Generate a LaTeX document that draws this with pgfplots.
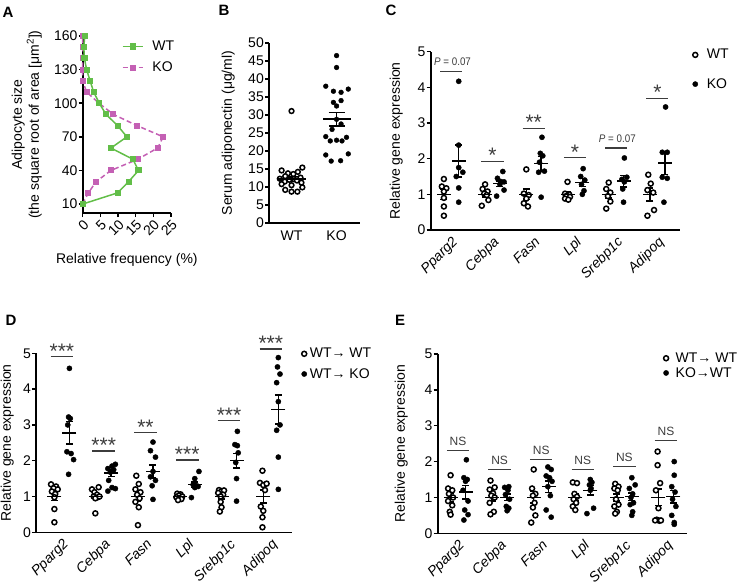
\documentclass[border=0pt]{standalone}
\usepackage{fontspec}
\setmainfont{Liberation Sans}
\usepackage{pgfplots}
\pgfplotsset{compat=1.18}

\definecolor{wtgreen}{RGB}{98,190,72}
\definecolor{komag}{RGB}{196,96,180}
\definecolor{siggray}{RGB}{60,60,60}

\newcommand{\fs}[1]{\fontsize{#1bp}{#1bp}\selectfont}

\pgfplotsset{
  panel/.style={
    scale only axis, clip=false,
    axis x line*=bottom, axis y line*=left,
    axis line style={line width=1.6bp, black},
    tick style={line width=1.5bp, black},
    tick align=outside, major tick length=4bp,
    tick label style={font=\fs{14}},
    label style={font=\fontsize{14bp}{17bp}\selectfont},
    /pgf/number format/assume math mode=true,
    yticklabel style={inner sep=1bp},
    legend style={draw=none, fill=none, font=\fs{14}, inner sep=0pt,
      nodes={inner sep=1bp}},
    legend cell align=left,
  },
  gene/.style={
    xtick={1,...,6},
    xticklabels={Pparg2,Cebpa,Fasn,Lpl,Srebp1c,Adipoq},
    xticklabel style={font=\itshape\fs{14}, rotate=45, anchor=north east, inner sep=1bp},
    xtick style={draw=none},
    ymin=0, ymax=5, ytick={0,...,5},
    ylabel={Relative gene expression},
    legend image code/.code={\draw[##1] plot coordinates {(0bp,0bp)};},
  },
  wt/.style={only marks, mark=*, mark size=2.5bp,
    mark options={fill=white, draw=black, line width=1.5bp}},
  ko/.style={only marks, mark=*, mark size=2.6bp, mark options={fill=black, draw=black}},
  meansem/.style={forget plot, only marks, black, mark=-, mark size=7bp,
    mark options={line width=1.5bp},
    error bars/y dir=both, error bars/y explicit,
    error bars/error bar style={line width=1.5bp, black},
    error bars/error mark options={rotate=90, mark size=3.5bp, line width=1.5bp, black}},
  sigline/.style={forget plot, no marks, line width=1.1bp, siggray},
}
\tikzset{
  star/.style={anchor=base, text=siggray, font=\fs{21}, yshift=-1.5bp, inner sep=0pt},
  pval/.style={anchor=base, text=siggray, font=\fs{11}, yshift=5.5bp, inner sep=0pt},
  ns/.style={anchor=base, text=siggray, font=\fs{12}, yshift=5bp, inner sep=0pt},
  letter/.style={font=\bfseries\fs{15}, inner sep=0pt},
}

\begin{document}
\begin{tikzpicture}
\useasboundingbox (0,0) rectangle (742bp,-583bp);

\node[letter] at (8bp,-12bp) {A};
\node[letter] at (224bp,-10bp) {B};
\node[letter] at (391bp,-10bp) {C};
\node[letter] at (11bp,-320bp) {D};
\node[letter] at (400bp,-320bp) {E};

% ---------- A: size distribution
\begin{axis}[panel, at={(82.7bp,-213bp)}, anchor=south west, width=88.3bp, height=177bp,
  xmin=0, xmax=25, ymin=2, ymax=160,
  xtick={0,5,...,25}, ytick={10,40,...,160},
  xticklabel style={rotate=45, anchor=north east, inner sep=1bp},
  xlabel={Relative frequency (\%)},
  xlabel style={at={(axis description cs:0.5,-0.266)}, anchor=center},
  ylabel={Adipocyte size\\(the square root of area [μm\textsuperscript{2}])},
  ylabel style={align=center, at={(axis description cs:-0.461,0.5)}, anchor=south, inner sep=0pt},
  legend style={at={(rel axis cs:0.442,0.979)}, anchor=north west, row sep=8bp,
    /tikz/every odd column/.append style={column sep=8bp}},
  legend image code/.code={\draw[mark repeat=2,mark phase=2,#1] plot coordinates {(0bp,0bp)(10bp,0bp)(20bp,0bp)};},
  reverse legend,
]
\addplot[komag, line width=1.5bp, dash pattern=on 5bp off 3bp, mark=square*, mark size=2.3bp, mark options={solid}]
  coordinates {(0,10)(1.6,20)(3.8,30)(8,40)(15.6,50)(21.2,60)(22.8,70)(15.4,80)(8.7,90)(4.6,100)(1.1,110)(0,120)(0,130)(0,140)(0,150)(0,160)};
\addlegendentry{KO}
\addplot[wtgreen, line width=1.5bp, mark=square*, mark size=2.3bp]
  coordinates {(0,10)(9.9,20)(13,30)(15.8,40)(14.2,50)(8,60)(12.5,70)(9.9,80)(6.6,90)(4.7,100)(3.1,110)(2.1,120)(1.1,130)(0.5,140)(0.3,150)(0.6,160)};
\addlegendentry{WT}
\end{axis}

% ---------- B: serum adiponectin
\begin{axis}[panel, at={(269bp,-223bp)}, anchor=south west, width=91bp, height=180bp,
  xmin=0.5, xmax=2.52, ymin=0, ymax=50,
  ytick={0,5,...,50}, xtick={1,2}, xticklabels={WT,KO}, xtick style={draw=none},
  ylabel={Serum adiponectin (μg/ml)},
  ylabel style={at={(axis description cs:-0.374,0.5)}, anchor=south, inner sep=0pt},
]
\addplot[wt, mark size=2.4bp] coordinates {
  (1,31.1)(1.24,15.4)(0.78,14.6)(1.14,14.2)(0.92,13.8)(1.04,13.6)(0.86,13.0)(1.2,12.6)
  (0.74,12.3)(1.05,12.2)(0.95,12.0)(1.12,11.8)(0.85,11.5)(1.22,11.2)(0.78,10.8)(1.0,10.5)
  (1.24,9.9)(0.86,9.2)(1.0,8.7)(1.13,8.7)};
\addplot[ko, mark size=2.4bp] coordinates {
  (2,46.5)(2,43.2)(1.76,38)(1.93,36.6)(2.1,36.3)(2.26,37.2)(1.93,33.5)(2.1,34.0)(2.0,32.5)
  (2,28.8)(2.1,27.5)(1.9,26)(1.76,24)(1.86,22.8)(2.0,23)(2.12,22.8)(2.22,23.8)
  (1.76,18.9)(2.26,19.2)(1.88,17.2)(2.09,17.3)};
\addplot[meansem, mark size=14bp, mark options={line width=1.8bp},
  error bars/error bar style={line width=1.8bp},
  error bars/error mark options={rotate=90, mark size=8bp, line width=1.8bp}]
  coordinates {(1,12.3) +- (0,0.6) (2,28.8) +- (0,1.9)};
\end{axis}

% ---------- C: gene expression WT vs KO
\begin{axis}[panel, gene, at={(430.7bp,-230bp)}, anchor=south west, width=249.3bp, height=178.3bp,
  xmin=0.5, xmax=6.55,
  ylabel style={at={(axis description cs:-0.111,0.5)}, anchor=south, inner sep=0pt},
  legend style={at={(rel axis cs:1.05,1.02)}, anchor=north west, row sep=16bp,
    /tikz/every odd column/.append style={column sep=8bp}},
]
\addplot[wt] coordinates {
  (0.82,1.43)(0.77,1.22)(0.88,1.17)(0.82,1.08)(0.82,0.9)(0.82,0.66)(0.82,0.4)
  (1.82,1.28)(1.76,1.15)(1.88,1.08)(1.8,1.02)(1.86,0.98)(1.9,0.84)(1.74,0.68)
  (2.82,1.7)(2.76,1.02)(2.88,0.98)(2.82,0.88)(2.76,0.75)(2.86,0.66)
  (3.82,1.35)(3.76,1.02)(3.86,1.0)(3.8,0.96)(3.88,0.93)(3.76,0.88)(3.84,0.85)
  (4.82,1.33)(4.76,1.15)(4.86,1.05)(4.8,0.95)(4.86,0.8)(4.76,0.6)
  (5.78,1.55)(5.84,1.3)(5.76,1.12)(5.9,1.05)(5.92,0.56)(5.76,0.4)};
\addlegendentry{WT}
\addplot[ko] coordinates {
  (1.18,4.17)(1.18,2.38)(1.18,1.75)(1.28,1.62)(1.12,1.5)(1.18,1.18)(1.18,0.78)
  (2.25,1.64)(2.12,1.45)(2.2,1.36)(2.28,1.35)(2.18,1.28)(2.28,1.12)(2.1,0.95)
  (3.2,2.6)(3.16,2.15)(3.22,2.08)(3.14,1.9)(3.26,1.65)(3.12,1.62)(3.18,0.92)
  (4.2,1.72)(4.14,1.5)(4.24,1.4)(4.16,1.28)(4.22,1.1)(4.18,1.0)
  (5.2,2.02)(5.26,1.48)(5.14,1.42)(5.2,1.35)(5.16,1.15)(5.18,0.78)
  (6.2,3.45)(6.12,2.18)(6.24,2.18)(6.12,1.48)(6.24,1.45)(6.16,0.78)};
\addlegendentry{KO}
\addplot[meansem] coordinates {
  (0.82,1.0) +- (0,0.14) (1.82,1.0) +- (0,0.08) (2.82,1.0) +- (0,0.15)
  (3.82,1.0) +- (0,0.06) (4.82,1.0) +- (0,0.1) (5.82,1.0) +- (0,0.18)};
\addplot[meansem] coordinates {
  (1.18,1.93) +- (0,0.45) (2.18,1.3) +- (0,0.08) (3.18,1.86) +- (0,0.2)
  (4.18,1.33) +- (0,0.11) (5.18,1.37) +- (0,0.16) (6.18,1.88) +- (0,0.32)};
\addplot[sigline] coordinates {(0.73,4.45)(1.27,4.45)};
\addplot[sigline] coordinates {(1.73,1.93)(2.27,1.93)};
\addplot[sigline] coordinates {(2.73,2.85)(3.27,2.85)};
\addplot[sigline] coordinates {(3.73,2.03)(4.27,2.03)};
\addplot[sigline] coordinates {(4.73,2.3)(5.27,2.3)};
\addplot[sigline] coordinates {(5.73,3.7)(6.27,3.7)};
\node[pval] at (axis cs:1.03,4.45) {\scalebox{0.89}[1]{\textit{P} = 0.07}};
\node[star] at (axis cs:2,1.93) {*};
\node[star] at (axis cs:3,2.85) {**};
\node[star] at (axis cs:4,2.03) {*};
\node[pval] at (axis cs:5.03,2.3) {\scalebox{0.89}[1]{\textit{P} = 0.07}};
\node[star] at (axis cs:6,3.7) {*};
\end{axis}

% ---------- D: WT->WT vs WT->KO
\begin{axis}[panel, gene, at={(36bp,-532.3bp)}, anchor=south west, width=255.7bp, height=179bp,
  xmin=0.38, xmax=6.5,
  ylabel style={at={(axis description cs:-0.086,0.5)}, anchor=south, inner sep=0pt},
  legend style={at={(rel axis cs:1.038,1.035)}, anchor=north west, row sep=7bp,
    /tikz/every odd column/.append style={column sep=2bp}},
]
\addplot[wt] coordinates {
  (0.74,1.34)(0.86,1.28)(0.8,1.23)(0.9,1.2)(0.76,1.14)(0.84,1.07)(0.82,0.98)(0.82,0.65)(0.82,0.28)
  (1.72,1.2)(1.78,1.12)(1.88,1.26)(1.84,1.05)(1.76,1.0)(1.86,0.98)(1.8,0.95)(1.9,1.0)(1.8,0.53)
  (2.78,1.58)(2.84,1.35)(2.76,1.2)(2.88,1.12)(2.8,1.05)(2.86,0.95)(2.76,0.85)(2.84,0.7)(2.82,0.2)
  (3.76,1.08)(3.84,1.06)(3.8,1.03)(3.88,1.0)(3.74,0.98)(3.82,0.95)(3.86,0.93)(3.78,0.9)
  (4.76,1.18)(4.82,1.15)(4.88,1.17)(4.74,1.1)(4.86,1.05)(4.8,1.0)(4.8,0.85)(4.82,0.7)(4.78,0.58)
  (5.8,1.72)(5.74,1.38)(5.82,1.32)(5.9,1.36)(5.86,1.18)(5.76,0.72)(5.82,0.6)(5.8,0.42)(5.8,0.14)};
\addlegendentry{WT→ WT}
\addplot[ko] coordinates {
  (1.18,4.58)(1.16,3.22)(1.2,3.18)(1.14,3.0)(1.12,2.25)(1.22,2.2)(1.28,2.03)(1.16,1.62)
  (2.1,1.78)(2.2,1.85)(2.28,1.9)(2.16,1.68)(2.24,1.75)(2.12,1.45)(2.2,1.25)(2.1,1.15)(2.28,1.22)
  (3.18,2.52)(3.12,2.28)(3.24,2.1)(3.18,1.7)(3.12,1.55)(3.24,1.45)(3.16,1.3)(3.18,0.92)
  (4.28,1.7)(4.18,1.5)(4.14,1.33)(4.22,1.3)(4.26,1.28)(4.18,1.25)(4.1,0.97)
  (5.2,2.82)(5.14,2.45)(5.2,2.42)(5.22,2.22)(5.16,1.95)(5.18,1.5)(5.18,0.87)
  (6.18,4.88)(6.16,4.62)(6.22,4.42)(6.14,4.18)(6.18,3.65)(6.22,3.0)(6.14,2.85)(6.18,2.1)(6.18,1.2)};
\addlegendentry{WT→ KO}
\addplot[meansem] coordinates {
  (0.82,1.0) +- (0,0.11) (1.82,1.0) +- (0,0.07) (2.82,1.0) +- (0,0.14)
  (3.82,1.0) +- (0,0.03) (4.82,1.0) +- (0,0.07) (5.82,1.0) +- (0,0.18)};
\addplot[meansem] coordinates {
  (1.18,2.78) +- (0,0.31) (2.18,1.65) +- (0,0.09) (3.18,1.7) +- (0,0.18)
  (4.18,1.33) +- (0,0.08) (5.18,2.0) +- (0,0.2) (6.18,3.43) +- (0,0.41)};
\addplot[sigline] coordinates {(0.73,4.9)(1.27,4.9)};
\addplot[sigline] coordinates {(1.73,2.27)(2.27,2.27)};
\addplot[sigline] coordinates {(2.73,2.78)(3.27,2.78)};
\addplot[sigline] coordinates {(3.73,2.02)(4.27,2.02)};
\addplot[sigline] coordinates {(4.73,3.12)(5.27,3.12)};
\addplot[sigline] coordinates {(5.73,5.12)(6.27,5.12)};
\node[star] at (axis cs:1,4.9) {***};
\node[star] at (axis cs:2,2.27) {***};
\node[star] at (axis cs:3,2.78) {**};
\node[star] at (axis cs:4,2.02) {***};
\node[star] at (axis cs:5,3.12) {***};
\node[star] at (axis cs:6,5.12) {***};
\end{axis}

% ---------- E: WT->WT vs KO->WT
\begin{axis}[panel, gene, at={(437.7bp,-533.3bp)}, anchor=south west, width=249bp, height=179.3bp,
  xmin=0.51, xmax=6.5,
  ylabel style={at={(axis description cs:-0.119,0.5)}, anchor=south, inner sep=0pt},
  legend style={at={(rel axis cs:0.906,1.014)}, anchor=north west, row sep=1.5bp,
    /tikz/every odd column/.append style={column sep=6bp}},
]
\addplot[wt] coordinates {
  (0.82,1.62)(0.76,1.25)(0.86,1.2)(0.78,1.1)(0.88,1.0)(0.76,0.9)(0.86,0.78)(0.8,0.6)(0.82,0.52)
  (1.78,1.47)(1.88,1.28)(1.76,1.22)(1.84,1.12)(1.8,1.05)(1.88,1.0)(1.76,0.85)(1.86,0.6)(1.78,0.53)
  (2.82,1.78)(2.78,1.25)(2.86,1.1)(2.8,1.05)(2.84,0.85)(2.8,0.72)(2.86,0.5)(2.76,0.3)
  (3.76,1.42)(3.86,1.4)(3.8,1.1)(3.86,1.02)(3.78,0.95)(3.84,0.85)(3.76,0.75)(3.82,0.65)
  (4.78,1.38)(4.86,1.3)(4.76,1.25)(4.84,1.2)(4.8,0.95)(4.86,0.8)(4.76,0.75)(4.82,0.6)(4.78,0.55)
  (5.8,2.28)(5.8,1.9)(5.86,1.4)(5.76,1.2)(5.82,0.7)(5.78,0.38)(5.84,0.35)(5.88,0.36)(5.74,0.36)};
\addlegendentry{WT→ WT}
\addplot[ko] coordinates {
  (1.2,2.05)(1.14,1.55)(1.22,1.5)(1.18,1.45)(1.12,1.2)(1.24,0.9)(1.16,0.65)(1.24,0.52)(1.14,0.37)
  (2.22,1.3)(2.12,1.28)(2.2,1.2)(2.14,1.08)(2.24,0.95)(2.16,0.75)(2.22,0.7)(2.18,0.63)
  (3.16,1.85)(3.24,1.78)(3.12,1.6)(3.2,1.55)(3.26,1.45)(3.16,1.3)(3.22,1.05)(3.12,0.65)(3.24,0.45)
  (4.18,1.5)(4.22,1.42)(4.16,1.35)(4.2,1.25)(4.18,1.2)(4.26,0.7)(4.1,0.55)
  (5.18,1.55)(5.26,1.35)(5.12,1.25)(5.2,1.1)(5.16,1.0)(5.22,0.85)(5.14,0.8)(5.2,0.6)(5.18,0.5)
  (6.2,2.0)(6.2,1.62)(6.14,1.3)(6.22,1.15)(6.16,0.95)(6.24,0.75)(6.14,0.5)(6.2,0.3)(6.2,0.25)};
\addlegendentry{KO→WT}
\addplot[meansem] coordinates {
  (0.82,1.0) +- (0,0.12) (1.82,1.0) +- (0,0.1) (2.82,1.0) +- (0,0.16)
  (3.82,1.0) +- (0,0.1) (4.82,1.0) +- (0,0.1) (5.82,1.0) +- (0,0.23)};
\addplot[meansem] coordinates {
  (1.18,1.15) +- (0,0.19) (2.18,1.0) +- (0,0.09) (3.18,1.3) +- (0,0.16)
  (4.18,1.2) +- (0,0.13) (5.18,1.02) +- (0,0.11) (6.18,1.02) +- (0,0.18)};
\addplot[sigline] coordinates {(0.73,2.3)(1.27,2.3)};
\addplot[sigline] coordinates {(1.73,1.77)(2.27,1.77)};
\addplot[sigline] coordinates {(2.73,2.06)(3.27,2.06)};
\addplot[sigline] coordinates {(3.73,1.77)(4.27,1.77)};
\addplot[sigline] coordinates {(4.73,1.86)(5.27,1.86)};
\addplot[sigline] coordinates {(5.73,2.6)(6.27,2.6)};
\node[ns] at (axis cs:1,2.3) {NS};
\node[ns] at (axis cs:2,1.77) {NS};
\node[ns] at (axis cs:3,2.06) {NS};
\node[ns] at (axis cs:4,1.77) {NS};
\node[ns] at (axis cs:5,1.86) {NS};
\node[ns] at (axis cs:6,2.6) {NS};
\end{axis}
\end{tikzpicture}
\end{document}
